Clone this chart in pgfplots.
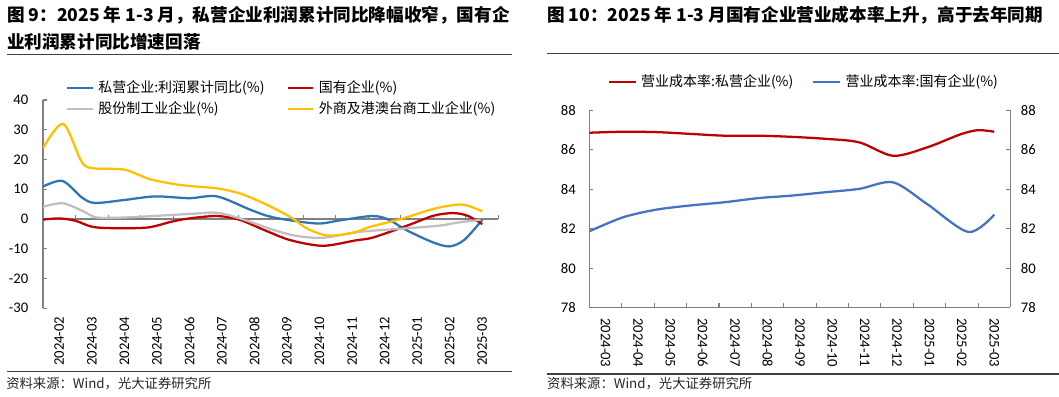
\documentclass[border=0pt]{standalone}
\usepackage{fontspec}
\setmainfont{Noto Sans CJK SC}
\newfontfamily\tickf{Carlito}
\usepackage{pgfplots}
\pgfplotsset{compat=1.18}
\definecolor{cblue}{HTML}{2E75B6}
\definecolor{cblue2}{HTML}{4472C4}
\definecolor{cred}{HTML}{C00000}
\definecolor{cgray}{HTML}{BFBFBF}
\definecolor{cyellow}{HTML}{FFC000}
\definecolor{axgray}{HTML}{808080}
\definecolor{rulegray}{HTML}{404040}
\pgfplotsset{
  myaxis/.style={
    scale only axis, anchor=south west,
    tick align=inside,
    /pgf/number format/assume math mode=true,
    ticklabel style={font=\tickf\fontsize{11pt}{13pt}\selectfont, text=black},
    axis line style={-, axgray, line width=0.8pt},
    tick style={axgray, line width=0.8pt},
    major tick length=3pt, minor tick length=3pt,
    legend cell align=left,
  },
  ln/.style={line width=1.7pt, smooth},
}
\begin{document}
\begin{tikzpicture}
\useasboundingbox (0,0) rectangle (794.25pt,297pt);
% titles and rules
\node[anchor=west, inner sep=0pt, font=\fontsize{13.2pt}{16pt}\selectfont\bfseries] at (5.1pt,285.6pt) {图 9：2025 年 1-3 月，私营企业利润累计同比降幅收窄，国有企};
\node[anchor=west, inner sep=0pt, font=\fontsize{13.2pt}{16pt}\selectfont\bfseries] at (5.1pt,265.3pt) {业利润累计同比增速回落};
\draw[rulegray, line width=0.8pt] (5.1pt,256.4pt) -- (384pt,256.4pt);
\draw[rulegray, line width=0.8pt] (5.1pt,18.4pt) -- (384pt,18.4pt);
\node[anchor=west, inner sep=0pt, font=\fontsize{10pt}{12pt}\selectfont, text=black!85] at (4.5pt,9.1pt) {资料来源：Wind，光大证券研究所};
\node[anchor=west, inner sep=0pt, font=\fontsize{13.2pt}{16pt}\selectfont\bfseries] at (410.2pt,285.6pt) {图 10：2025 年 1-3 月国有企业营业成本率上升，高于去年同期};
\draw[rulegray, line width=0.8pt] (410.2pt,257.0pt) -- (794.25pt,257.0pt);
\draw[rulegray, line width=0.8pt] (410.2pt,16.5pt) -- (794.25pt,16.5pt);
\node[anchor=west, inner sep=0pt, font=\fontsize{10pt}{12pt}\selectfont, text=black!85] at (410.2pt,9.5pt) {资料来源：Wind，光大证券研究所};

% ---------- left: zero line with ticks ----------
\begin{axis}[myaxis, at={(32.25pt,65.8pt)}, width=341.6pt, height=156.2pt,
  xmin=0, xmax=14, ymin=-30, ymax=40,
  axis x line=middle, axis y line=none,
  x axis line style={-, axgray, line width=0.8pt},
  every inner x axis line/.append style={-},
  tick align=inside,
  xtick={1,...,14}, xticklabels={}, ytick=\empty]
\addplot[draw=none] coordinates {(0,0)};
\end{axis}
% ---------- left: data ----------
\begin{axis}[myaxis, at={(32.25pt,65.8pt)}, width=341.6pt, height=156.2pt,
  xmin=0, xmax=14, ymin=-30, ymax=40,
  axis y line*=left, axis x line*=bottom, x axis line style={draw=none},
  ytick={-30,-20,...,40}, yticklabel shift=7.5pt,
  xtick={0.5,1.5,...,13.5},
  xticklabels={2024-02,2024-03,2024-04,2024-05,2024-06,2024-07,2024-08,2024-09,2024-10,2024-11,2024-12,2025-01,2025-02,2025-03},
  major x tick style={draw=none},
  xticklabel style={rotate=90, anchor=east}, xticklabel shift=2.8pt,
  legend columns=2,
  legend image code/.code={\draw[#1] (0pt,0pt) -- (19pt,0pt);},
  legend style={at={(axis description cs:0.0505,1.094)}, anchor=north west, draw=none, fill=none, inner sep=0pt,
    font=\fontsize{10.5pt}{12pt}\selectfont, row sep=5.5pt,
    nodes={inner xsep=3.3pt, inner ysep=0pt},
    /tikz/every even column/.append style={column sep=13.5pt}},
  ]
\addplot[ln, cblue] coordinates {(0,10.9) (0.6,12.8) (1.2,7.2) (1.6,5.4) (2.5,6.4) (3.45,7.6) (4.5,7.0) (5.35,7.6) (6.4,3.0) (7.1,0.5) (8.4,-1.5) (9.1,-0.5) (10.1,1.0) (10.6,-0.1) (11.2,-3.9) (12.0,-7.9) (12.5,-9.2) (12.95,-7.0) (13.5,-0.3)};
\addlegendentry{私营企业:利润累计同比(\%)}
\addplot[ln, cred] coordinates {(0,-0.2) (0.5,0.2) (1.0,-0.6) (1.55,-2.7) (2.4,-3.1) (3.25,-2.8) (3.95,-0.9) (4.5,0.2) (5.35,1.0) (6.05,-0.3) (6.8,-3.7) (7.6,-7.1) (8.6,-9.0) (9.6,-7.2) (10.15,-6.2) (11.2,-2.2) (12.0,1.1) (12.6,2.0) (13.05,1.1) (13.5,-1.7)};
\addlegendentry{国有企业(\%)}
\addplot[ln, cgray] coordinates {(0,4.1) (0.6,5.3) (1.2,2.8) (1.6,0.6) (2.1,0.4) (2.9,0.7) (4.5,1.7) (5.35,2.1) (6.05,0.2) (7.1,-3.7) (7.8,-5.7) (8.6,-6.3) (9.6,-4.5) (10.15,-3.9) (11.2,-3.1) (12.2,-2.2) (12.8,-1.1) (13.45,-0.3)};
\addlegendentry{股份制工业企业(\%)}
\addplot[ln, cyellow] coordinates {(0,23.8) (0.62,32.0) (1.2,19.0) (1.6,17.0) (2.5,16.6) (3.25,13.5) (4.0,11.8) (4.5,11.1) (5.35,10.3) (6.05,8.6) (6.8,5.2) (7.6,0.7) (8.1,-3.1) (8.65,-5.4) (9.1,-5.4) (9.65,-4.3) (10.0,-2.8) (11.0,0.0) (12.0,3.4) (12.7,4.8) (13.05,4.5) (13.5,2.6)};
\addlegendentry{外商及港澳台商工业企业(\%)}
\end{axis}

% ---------- right: secondary y axis ----------
\begin{axis}[myaxis, at={(442.1pt,66.4pt)}, width=315.75pt, height=147.75pt,
  xmin=0, xmax=13, ymin=78, ymax=88,
  axis y line*=right, axis x line=none,
  ytick={78,80,...,88}, yticklabel shift=4.3pt, xtick=\empty]
\addplot[draw=none] coordinates {(0,80)};
\end{axis}
% ---------- right: data ----------
\begin{axis}[myaxis, at={(442.1pt,66.4pt)}, width=315.75pt, height=147.75pt,
  xmin=0, xmax=13, ymin=78, ymax=88,
  axis y line*=left, axis x line*=bottom,
  ytick={78,80,...,88}, yticklabel shift=6.8pt,
  xtick={0.5,1.5,...,12.5},
  xticklabels={2024-03,2024-04,2024-05,2024-06,2024-07,2024-08,2024-09,2024-10,2024-11,2024-12,2025-01,2025-02,2025-03},
  major x tick style={draw=none},
  minor xtick={1,...,12},
  xticklabel style={rotate=-90, anchor=west}, xticklabel shift=4.6pt,
  legend columns=2,
  legend image code/.code={\draw[#1] (0pt,0pt) -- (20.25pt,0pt);},
  legend style={at={(axis description cs:0.043,1.181)}, anchor=north west, draw=none, fill=none, inner sep=0pt,
    font=\fontsize{10.5pt}{12pt}\selectfont,
    nodes={inner xsep=3pt, inner ysep=0pt},
    /tikz/every even column/.append style={column sep=11.25pt}},
  ]
\addplot[ln, cred] coordinates {(0,86.87) (1.0417,86.92) (2.0833,86.90) (3.125,86.81) (4.1667,86.72) (5.2083,86.72) (6.25,86.66) (7.2917,86.56) (8.3333,86.38) (9.375,85.70) (10.4167,86.12) (11.4583,86.79) (12.0,87.0) (12.5,86.92)};
\addlegendentry{营业成本率:私营企业(\%)}
\addplot[ln, cblue2] coordinates {(0,81.87) (1.0417,82.58) (2.0833,82.97) (3.125,83.18) (4.1667,83.34) (5.2083,83.55) (6.25,83.68) (7.2917,83.85) (8.3333,84.02) (9.375,84.35) (10.4167,83.26) (11.7,81.83) (12.5,82.71)};
\addlegendentry{营业成本率:国有企业(\%)}
\end{axis}
\end{tikzpicture}
\end{document}
